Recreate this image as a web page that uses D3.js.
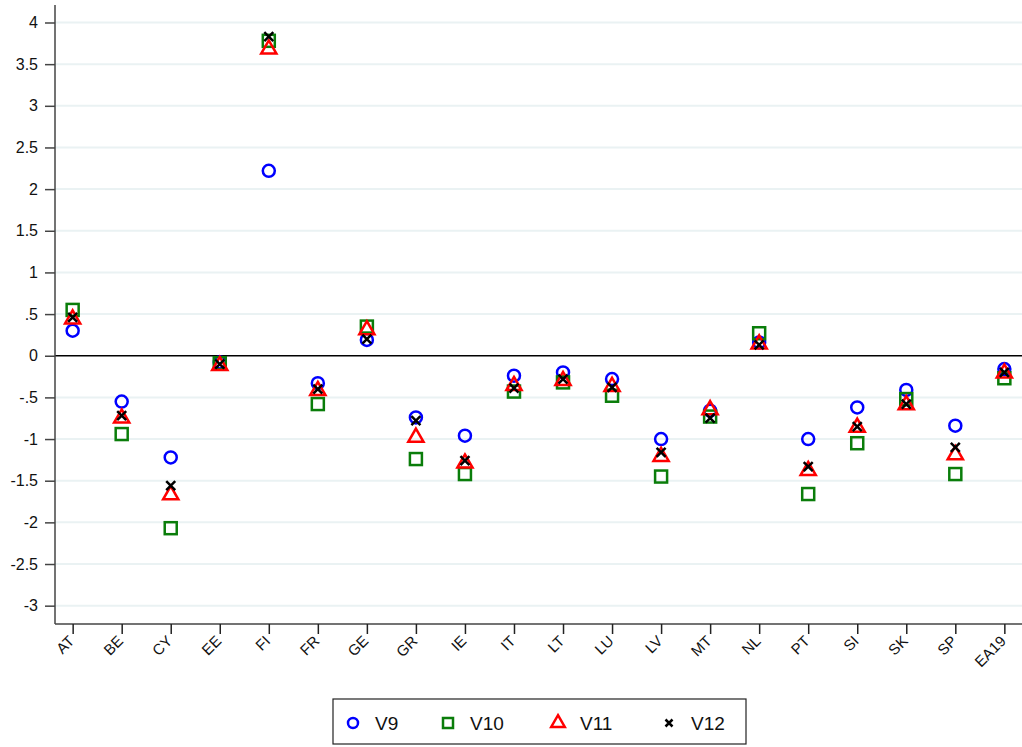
<!DOCTYPE html>
<html>
<head>
<meta charset="utf-8">
<script src="https://cdn.jsdelivr.net/npm/d3@7"></script>
<style>
  body { margin: 0; background: #fff; }
  text { font-family: "Liberation Sans", Arial, sans-serif; }
</style>
</head>
<body>
<div id="chart"></div>
<script>
// country codes on the x axis
var countries = ["AT", "BE", "CY", "EE", "FI", "FR", "GE", "GR", "IE", "IT",
                 "LT", "LU", "LV", "MT", "NL", "PT", "SI", "SK", "SP", "EA19"];

var v9  = [0.30, -0.55, -1.22, -0.08, 2.22, -0.33, 0.19, -0.74, -0.96, -0.24,
           -0.20, -0.28, -1.00, -0.66, 0.16, -1.00, -0.62, -0.41, -0.84, -0.16];
var v10 = [0.55, -0.94, -2.07, -0.09, 3.78, -0.58, 0.35, -1.24, -1.42, -0.43,
           -0.32, -0.48, -1.45, -0.73, 0.27, -1.66, -1.05, -0.52, -1.42, -0.27];
var v11 = [0.44, -0.75, -1.67, -0.12, 3.68, -0.42, 0.31, -0.98, -1.29, -0.36,
           -0.30, -0.37, -1.21, -0.65, 0.14, -1.38, -0.86, -0.59, -1.19, -0.21];
var v12 = [0.46, -0.72, -1.56, -0.10, 3.83, -0.40, 0.20, -0.78, -1.26, -0.39,
           -0.28, -0.38, -1.16, -0.75, 0.13, -1.33, -0.85, -0.58, -1.10, -0.20];

var yTicks = [-3, -2.5, -2, -1.5, -1, -0.5, 0, 0.5, 1, 1.5, 2, 2.5, 3, 3.5, 4];
var seriesNames = ["V9", "V10", "V11", "V12"];

var W = 1022, H = 747;
var margin = {top: 5, right: 0, bottom: 123, left: 55};
var width = W - margin.left - margin.right,
    height = H - margin.top - margin.bottom;

var svg = d3.select("#chart").append("svg")
    .attr("width", W).attr("height", H);
var g = svg.append("g")
    .attr("transform", "translate(" + margin.left + "," + margin.top + ")");

var x = d3.scalePoint()
  .domain(countries)
  .range([0, width])
  .padding(0.36);

var y = d3.scaleLinear()
  .domain([-3.22, 4.21])
  .range([height, 0]);

function fmt(d) {
  if (d === 0) return "0";
  var s = String(d);
  return s.replace("0.", ".");
}

// gridlines
g.append("g")
  .selectAll("line")
  .data(yTicks.filter(function (d) { return d !== 0; }))
  .enter().append("line")
    .attr("x1", 0).attr("x2", width)
    .attr("y1", function (d) { return y(d); })
    .attr("y2", function (d) { return y(d); })
    .style("stroke", "#eaf2f3")
    .style("stroke-width", 2);

// zero line
g.append("line")
  .attr("x1", 0).attr("x2", width)
  .attr("y1", y(0)).attr("y2", y(0))
  .style("stroke", "#000")
  .style("stroke-width", 1.5);

// Y axis
var yAxis = g.append("g")
  .call(d3.axisLeft(y).tickValues(yTicks).tickFormat(fmt).tickSize(10).tickPadding(7));
yAxis.select(".domain").attr("d", "M0,0V" + height).style("stroke", "#444").style("stroke-width", 1.5);
yAxis.selectAll(".tick line").style("stroke", "#444").style("stroke-width", 1.5);
yAxis.selectAll(".tick text").style("font-size", "16px").style("fill", "#111");

// X axis
var xAxis = g.append("g")
  .attr("transform", "translate(0," + height + ")")
  .call(d3.axisBottom(x).tickSize(10));
xAxis.select(".domain").attr("d", "M0,0H" + width).style("stroke", "#444").style("stroke-width", 1.5);
xAxis.selectAll(".tick line").style("stroke", "#222").style("stroke-width", 1.5);
xAxis.selectAll(".tick text")
  .style("font-size", "15px")
  .style("fill", "#111")
  .style("text-anchor", "end")
  .attr("x", 0)
  .attr("y", 0)
  .attr("dx", "0")
  .attr("dy", "0")
  .attr("transform", "translate(2,18) rotate(-45)");

var sw = 2.5;

// V9 circles
g.append("g").selectAll("circle")
  .data(countries)
  .enter().append("circle")
    .attr("cx", function (d) { return x(d); })
    .attr("cy", function (d, i) { return y(v9[i]); })
    .attr("r", 6)
    .style("fill", "none")
    .style("stroke", "#0000ff")
    .style("stroke-width", sw);

// V10 squares
g.append("g").selectAll("rect")
  .data(countries)
  .enter().append("rect")
    .attr("x", function (d) { return x(d) - 6; })
    .attr("y", function (d, i) { return y(v10[i]) - 6; })
    .attr("width", 12).attr("height", 12)
    .style("fill", "none")
    .style("stroke", "#0a7d0a")
    .style("stroke-width", sw);

// V11 triangles
var tri = d3.symbol().type(d3.symbolTriangle).size(100);
g.append("g").selectAll("path")
  .data(countries)
  .enter().append("path")
    .attr("d", tri)
    .attr("transform", function (d, i) { return "translate(" + x(d) + "," + y(v11[i]) + ")"; })
    .style("fill", "none")
    .style("stroke", "#ff0000")
    .style("stroke-width", sw);

// V12 crosses
g.append("g").selectAll("path")
  .data(countries)
  .enter().append("path")
    .attr("d", "M-4.5,-4.5L4.5,4.5M-4.5,4.5L4.5,-4.5")
    .attr("transform", function (d, i) { return "translate(" + x(d) + "," + y(v12[i]) + ")"; })
    .style("fill", "none")
    .style("stroke", "#000")
    .style("stroke-width", sw);

// legend
var legend = svg.append("g").attr("transform", "translate(333,699)");
legend.append("rect")
  .attr("width", 413).attr("height", 45)
  .style("fill", "#fff")
  .style("stroke", "#222")
  .style("stroke-width", 1.2);

var legX = [20, 115, 225, 336];
var items = legend.selectAll(".item")
  .data(seriesNames)
  .enter().append("g")
    .attr("transform", function (d, i) { return "translate(" + legX[i] + ",24)"; });

items.each(function (d, i) {
  var it = d3.select(this);
  if (i === 0) {
    it.append("circle").attr("r", 5).style("fill", "none").style("stroke", "#0000ff").style("stroke-width", sw);
  } else if (i === 1) {
    it.append("rect").attr("x", -5).attr("y", -5).attr("width", 10).attr("height", 10)
      .style("fill", "none").style("stroke", "#0a7d0a").style("stroke-width", sw);
  } else if (i === 2) {
    it.append("path").attr("d", d3.symbol().type(d3.symbolTriangle).size(80))
      .style("fill", "none").style("stroke", "#ff0000").style("stroke-width", sw);
  } else {
    it.append("path").attr("d", "M-3.5,-3.5L3.5,3.5M-3.5,3.5L3.5,-3.5")
      .style("fill", "none").style("stroke", "#000").style("stroke-width", sw);
  }
  it.append("text")
    .attr("x", 22).attr("y", 7)
    .style("font-size", "19px")
    .style("fill", "#111")
    .text(d);
});
</script>
</body>
</html>
